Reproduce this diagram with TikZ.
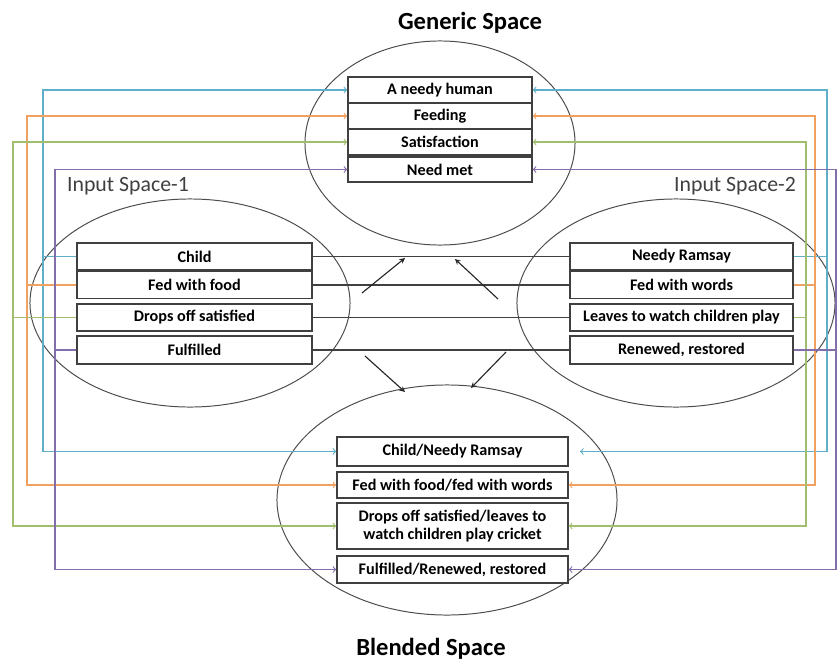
\documentclass[tikz,border=0pt]{standalone}
\usepackage{fontspec}
\setmainfont{Carlito}
\usetikzlibrary{shapes.geometric}
\definecolor{linkblue}{RGB}{95,175,200}
\definecolor{linkorange}{RGB}{240,160,95}
\definecolor{linkgreen}{RGB}{160,190,110}
\definecolor{linkpurple}{RGB}{130,110,170}
\begin{document}
\begin{tikzpicture}[x=0.025cm, y=-0.025cm,
            space/.style={ellipse, draw=black!70, line width=0.7pt, inner sep=0pt},
            item/.style={rectangle, draw=black!75, line width=1pt, fill=white, inner sep=1pt, align=center, font=\fontsize{11.5}{13}\selectfont\bfseries},
            title/.style={anchor=base, font=\fontsize{17.5}{20}\selectfont\bfseries},
            spacename/.style={anchor=base, font=\fontsize{15.5}{18}\selectfont, text=black!75},
            bond/.style={draw=black!75, line width=1.2pt},
            link/.style={->, line width=0.8pt},
            map/.style={->, >=stealth, thick, black!85}
        ]
            \useasboundingbox (0,0) rectangle (837,665);

            % Spaces
            \node[space, minimum width=6.75cm, minimum height=5.1cm] (generic) at (440,143) {};
            \node[space, minimum width=8cm, minimum height=5.2cm] (input1) at (190,303) {};
            \node[space, minimum width=7.95cm, minimum height=5.2cm] (input2) at (676,303) {};
            \node[space, minimum width=8.5cm, minimum height=5.75cm] (blended) at (447,500) {};

            % Titles
            \node[title] (gtitle) at (470,29) {Generic Space};
            \node[title] (btitle) at (431,655) {Blended Space};
            \node[spacename] (i1title) at (128,191) {Input Space-1};
            \node[spacename] (i2title) at (735,191) {Input Space-2};

            % Generic Space
            \node[item, minimum width=4.6cm, minimum height=0.65cm] (ga) at (440,90) {A needy human};
            \node[item, minimum width=4.6cm, minimum height=0.65cm] (gb) at (440,116) {Feeding};
            \node[item, minimum width=4.6cm, minimum height=0.65cm] (gc) at (440,142) {Satisfaction};
            \node[item, minimum width=4.6cm, minimum height=0.62cm] (gd) at (440,169.5) {Need met};

            % Input Space-1
            \node[item, minimum width=5.875cm, minimum height=0.675cm] (i1a) at (194.5,256.5) {Child};
            \node[item, minimum width=5.875cm, minimum height=0.675cm] (i1b) at (194.5,285) {Fed with food};
            \node[item, minimum width=5.875cm, minimum height=0.675cm] (i1c) at (194.5,317.5) {Drops off satisfied};
            \node[item, minimum width=5.875cm, minimum height=0.7cm] (i1d) at (194.5,350) {Fulfilled};

            % Input Space-2
            \node[item, minimum width=5.575cm, minimum height=0.675cm] (i2a) at (681.5,256.5) {Needy Ramsay};
            \node[item, minimum width=5.575cm, minimum height=0.675cm] (i2b) at (681.5,285) {Fed with words};
            \node[item, minimum width=5.575cm, minimum height=0.675cm] (i2c) at (681.5,317.5) {Leaves to watch children play};
            \node[item, minimum width=5.575cm, minimum height=0.7cm] (i2d) at (681.5,350) {Renewed, restored};

            % Blended Space
            \node[item, minimum width=5.775cm, minimum height=0.725cm] (ba) at (452.5,451.5) {Child/Needy Ramsay};
            \node[item, minimum width=5.775cm, minimum height=0.65cm] (bb) at (452.5,485) {Fed with food/fed with words};
            \node[item, minimum width=5.775cm, minimum height=1.15cm] (bc) at (452.5,526) {Drops off satisfied/leaves to\\watch children play cricket};
            \node[item, minimum width=5.775cm, minimum height=0.675cm] (bd) at (452.5,569.5) {Fulfilled/Renewed, restored};

            % Rails
            \coordinate (lgreen) at (13,0);
            \coordinate (lorange) at (27,0);
            \coordinate (lblue) at (43,0);
            \coordinate (lpurple) at (55,0);
            \coordinate (rgreen) at (806,0);
            \coordinate (rorange) at (815,0);
            \coordinate (rblue) at (827,0);
            \coordinate (rpurple) at (836,0);

            % Cross-space links
            \draw[bond] (i1a) -- (i2a);
            \draw[bond] (i1b) -- (i2b);
            \draw[bond] (i1c) -- (i2c);
            \draw[bond] (i1d) -- (i2d);

            % Links to generic and blended space
            \draw[link, linkblue] (i1a.west) -- (i1a.west -| lblue) |- (ga.west);
            \draw[link, linkblue] (i1a.west -| lblue) |- (ba.west);
            \draw[link, linkorange] (i1b.west) -- (i1b.west -| lorange) |- (gb.west);
            \draw[link, linkorange] (i1b.west -| lorange) |- (bb.west);
            \draw[link, linkgreen] (i1c.west) -- (i1c.west -| lgreen) |- (gc.west);
            \draw[link, linkgreen] (i1c.west -| lgreen) |- (bc.west);
            \draw[link, linkpurple] (i1d.west) -- (i1d.west -| lpurple) |- (gd.west);
            \draw[link, linkpurple] (i1d.west -| lpurple) |- (bd.west);

            \draw[link, linkblue] (i2a.east) -- (i2a.east -| rblue) |- (ga.east);
            \draw[link, linkblue, shorten >=8pt] (i2a.east -| rblue) |- (ba.east);
            \draw[link, linkorange] (i2b.east) -- (i2b.east -| rorange) |- (gb.east);
            \draw[link, linkorange] (i2b.east -| rorange) |- (bb.east);
            \draw[link, linkgreen] (i2c.east) -- (i2c.east -| rgreen) |- (gc.east);
            \draw[link, linkgreen] (i2c.east -| rgreen) |- (bc.east);
            \draw[link, linkpurple] (i2d.east) -- (i2d.east -| rpurple) |- (gd.east);
            \draw[link, linkpurple] (i2d.east -| rpurple) |- (bd.east);

            % Projection arrows
            \coordinate (up1) at (362,293);
            \coordinate (up1end) at (405,258);
            \coordinate (up2) at (498,299);
            \coordinate (up2end) at (455,259);
            \coordinate (dn1) at (365,356);
            \coordinate (dn1end) at (405,392);
            \coordinate (dn2) at (506,352);
            \coordinate (dn2end) at (471,388);
            \draw[map] (up1) -- (up1end);
            \draw[map] (up2) -- (up2end);
            \draw[map] (dn1) -- (dn1end);
            \draw[map] (dn2) -- (dn2end);

        \end{tikzpicture}
\end{document}
